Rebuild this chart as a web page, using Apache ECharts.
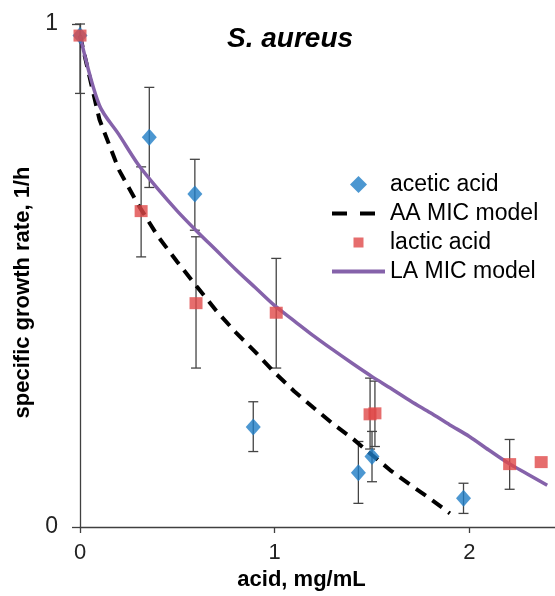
<!DOCTYPE html>
<html><head><meta charset="utf-8">
<script src="https://cdn.jsdelivr.net/npm/echarts@6/dist/echarts.min.js"></script>
<style>html,body{margin:0;padding:0;background:#fff}#c{width:555px;height:596px}</style>
</head><body><div id="c"></div>
<script>
// acetic acid measurements
const aceticX    = [0,     0.356, 0.59,  0.89,  1.43,  1.50,  1.97];
const aceticY    = [0.977, 0.775, 0.662, 0.199, 0.108, 0.140, 0.057];
const aceticLow  = [0.862, 0.675, 0.590, 0.150, 0.047, 0.090, 0.027];
const aceticHigh = [1.000, 0.874, 0.731, 0.249, 0.170, 0.190, 0.087];
// lactic acid measurements
const lacticX    = [0,     0.314, 0.596, 1.008, 1.49,  1.515, 2.207, 2.369];
const lacticY    = [0.977, 0.628, 0.445, 0.426, 0.224, 0.226, 0.125, 0.129];
const lacticLow  = [null,  0.537, 0.316, 0.316, 0.155, 0.160, 0.075, null];
const lacticHigh = [null,  0.716, 0.577, 0.534, 0.296, 0.290, 0.174, null];
// AA MIC model curve
const aaModelX = [0, 0.1, 0.2, 0.3, 0.4, 0.5, 0.6, 0.7, 0.8, 0.9, 1.0, 1.1, 1.2, 1.3, 1.4, 1.5, 1.6, 1.7, 1.8, 1.9];
const aaModelY = [0.977, 0.81, 0.71, 0.64, 0.578, 0.527, 0.478, 0.43, 0.387, 0.348, 0.307, 0.27, 0.237, 0.205, 0.176, 0.143, 0.111, 0.083, 0.056, 0.027];
// LA MIC model curve
const laModelX = [0, 0.1, 0.2, 0.3, 0.4, 0.5, 0.6, 0.7, 0.8, 0.9, 1.0, 1.1, 1.2, 1.3, 1.4, 1.5, 1.6, 1.7, 1.8, 1.9, 2.0, 2.1, 2.2, 2.3, 2.4];
const laModelY = [0.977, 0.838, 0.78, 0.72, 0.672, 0.628, 0.588, 0.55, 0.512, 0.476, 0.44, 0.41, 0.38, 0.352, 0.325, 0.299, 0.275, 0.25, 0.227, 0.203, 0.18, 0.153, 0.127, 0.105, 0.083];
// axis ticks
const xTicks = [0, 1, 2];
const yTicks = [0, 1];

const zip = (a, b) => a.map((v, i) => [v, b[i]]);
const errData = (xs, lo, hi) => xs.map((v, i) => lo[i] == null ? null : [v, lo[i], hi[i]]).filter(d => d);

const FONT = "'Liberation Sans', Arial, sans-serif";
const AXIS_COLOR = '#404040';
const PURPLE = '#8562AA';

function errRender(params, api) {
  const x = api.value(0), lo = api.value(1), hi = api.value(2);
  const p1 = api.coord([x, hi]), p2 = api.coord([x, lo]);
  const hw = 5;
  const style = { stroke: '#444', lineWidth: 1.3 };
  return { type: 'group', children: [
    { type: 'line', shape: { x1: p1[0], y1: p1[1], x2: p2[0], y2: p2[1] }, style },
    { type: 'line', shape: { x1: p1[0] - hw, y1: p1[1], x2: p1[0] + hw, y2: p1[1] }, style },
    { type: 'line', shape: { x1: p2[0] - hw, y1: p2[1], x2: p2[0] + hw, y2: p2[1] }, style }
  ]};
}

const chart = echarts.init(document.getElementById('c'), null, { renderer: 'canvas' });
chart.setOption({
  animation: false,
  backgroundColor: '#fff',
  title: {
    text: 'S. aureus', left: 227, top: 25, padding: 0,
    textStyle: { fontFamily: FONT, fontSize: 28, fontWeight: 'bold', fontStyle: 'italic', color: '#000' }
  },
  grid: { left: 80, top: 24, right: 0, bottom: 69, containLabel: false },
  legend: {
    orient: 'vertical', left: 330, top: 173, padding: 0,
    itemWidth: 53, itemHeight: 17, itemGap: 6, symbolKeepAspect: true,
    textStyle: { fontFamily: FONT, fontSize: 23, color: '#000', lineHeight: 23 },
    data: [
      { name: 'acetic acid', icon: 'path://M8.5,1L16,8.5L8.5,16L1,8.5Z' },
      { name: 'AA MIC model', icon: 'path://M0,0M53,17M0,6.5L15,6.5L15,10.5L0,10.5ZM28,6.5L43,6.5L43,10.5L28,10.5Z' },
      { name: 'lactic acid', icon: 'path://M0,0M17,17M3.5,3.5L13.5,3.5L13.5,13.5L3.5,13.5Z' },
      { name: 'LA MIC model', itemStyle: { opacity: 0 }, lineStyle: { width: 4 } }
    ]
  },
  xAxis: {
    type: 'value', min: 0, max: 2.44, interval: 1,
    name: 'acid, mg/mL', nameLocation: 'middle', nameGap: 41,
    nameTextStyle: { fontFamily: FONT, fontSize: 22, fontWeight: 'bold', color: '#000', padding: [0, 32, 0, 0] },
    axisLine: { lineStyle: { color: AXIS_COLOR, width: 1.3 } },
    axisTick: { show: true, length: 6, lineStyle: { color: AXIS_COLOR, width: 1.3 } },
    axisLabel: { fontFamily: FONT, fontSize: 22, color: '#222', margin: 15, showMaxLabel: false,
      formatter: v => xTicks.includes(v) ? String(v) : '' },
    splitLine: { show: false }
  },
  yAxis: {
    type: 'value', min: 0, max: 1, interval: 1,
    name: 'specific growth rate, 1/h', nameLocation: 'middle', nameGap: 40, nameRotate: 90,
    nameTextStyle: { fontFamily: FONT, fontSize: 22, fontWeight: 'bold', color: '#000', padding: [0, 34, 0, 0] },
    axisLine: { show: true, lineStyle: { color: AXIS_COLOR, width: 1.3 } },
    axisTick: { show: true, length: 8, lineStyle: { color: AXIS_COLOR, width: 1.3 } },
    axisLabel: { fontFamily: FONT, fontSize: 23, color: '#222', margin: 22,
      formatter: v => yTicks.includes(v) ? String(v) : '' },
    splitLine: { show: false }
  },
  series: [
    { type: 'custom', name: 'acetic err', renderItem: errRender, encode: { x: 0, y: [1, 2] },
      data: errData(aceticX, aceticLow, aceticHigh), z: 1, silent: true },
    { type: 'custom', name: 'lactic err', renderItem: errRender, encode: { x: 0, y: [1, 2] },
      data: errData(lacticX, lacticLow, lacticHigh), z: 1, silent: true },
    { type: 'line', name: 'AA MIC model', data: zip(aaModelX, aaModelY), showSymbol: false, symbol: 'none',
      lineStyle: { color: '#000', width: 4, type: [12, 8] }, itemStyle: { color: '#000' }, z: 2 },
    { type: 'line', name: 'LA MIC model', data: zip(laModelX, laModelY), showSymbol: false, symbol: 'none',
      smooth: 0.3, lineStyle: { color: PURPLE, width: 3.5 }, itemStyle: { color: PURPLE }, z: 2 },
    { type: 'scatter', name: 'acetic acid', data: zip(aceticX, aceticY), symbol: 'diamond', symbolSize: [15, 17],
      itemStyle: { color: '#1F7DC6' }, z: 3 },
    { type: 'scatter', name: 'lactic acid', data: zip(lacticX, lacticY), symbol: 'rect', symbolSize: [13, 12],
      itemStyle: { color: '#E04848' }, z: 4 }
  ]
});
</script>
</body></html>
